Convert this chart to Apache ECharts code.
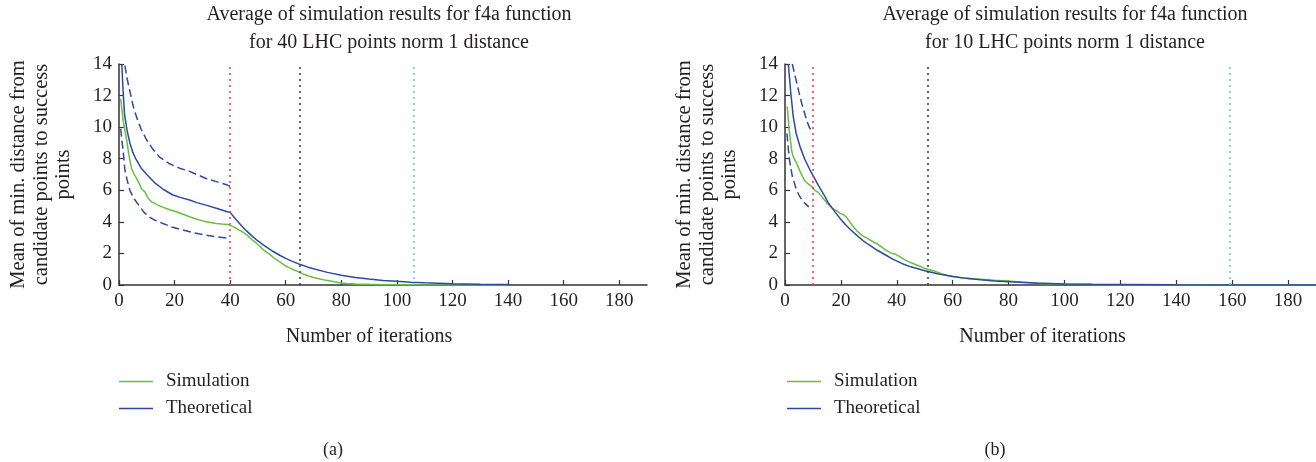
<!DOCTYPE html>
<html>
<head>
<meta charset="utf-8">
<script src="https://cdn.jsdelivr.net/npm/echarts@6/dist/echarts.min.js"></script>
<style>
html,body{margin:0;padding:0;background:#fff;}
#chart{width:1316px;height:462px;}
</style>
</head>
<body>
<div id="chart"></div>
<script>
// ---- data ----
var xTicks = [0, 20, 40, 60, 80, 100, 120, 140, 160, 180];
var yTicks = [0, 2, 4, 6, 8, 10, 12, 14];

var simA = [[0.6,11.8],[1,11.2],[1.5,10.4],[2,9.9],[2.75,9.2],[3.5,8.3],[4.5,7.4],[5.5,7.0],[6.3,6.75],[7.2,6.45],[8.1,6.1],[9.3,5.9],[10.5,5.5],[11.7,5.27],[13,5.15],[14,5.06],[15.5,4.95],[17,4.85],[18.5,4.75],[20.6,4.64],[23,4.48],[25.4,4.32],[28,4.17],[31.3,4.0],[33,3.96],[34.9,3.9],[37,3.86],[39,3.84],[40,3.78],[41,3.7],[42,3.62],[43.2,3.48],[44,3.42],[45,3.3],[46,3.18],[47,3.0],[48,2.85],[49,2.72],[50,2.55],[51,2.4],[52,2.22],[53,2.1],[54,1.97],[55,1.83],[56,1.68],[57,1.56],[58,1.45],[59,1.32],[60,1.2],[61,1.12],[62,1.04],[63,0.95],[64,0.88],[65,0.8],[66,0.72],[67,0.65],[68,0.59],[70,0.48],[72,0.39],[74,0.31],[76,0.25],[78,0.19],[80,0.13],[82,0.1],[85,0.07],[88,0.05],[90,0.04],[95,0.02],[100,0.01],[105,0.01],[110,0],[120,0],[130,0],[140,0]];
var theoA = [[1,14],[1.5,12.2],[2,10.8],[3,9.7],[4,8.95],[5,8.4],[6,8.0],[8,7.4],[10,7.0],[13,6.45],[16,6.05],[19.4,5.7],[22,5.55],[25.4,5.38],[28,5.22],[31.3,5.06],[35,4.86],[39,4.64],[40,4.6],[42,4.16],[44,3.77],[46,3.41],[48,3.08],[50,2.79],[52,2.52],[55,2.17],[58,1.87],[60,1.69],[62,1.53],[65,1.31],[68,1.13],[70,1.03],[75,0.8],[80,0.62],[85,0.48],[90,0.38],[95,0.29],[100,0.23],[105,0.18],[110,0.14],[120,0.08],[130,0.05],[140,0.03]];
var upperA = [[2.1,13.9],[3,13.0],[3.9,12.3],[5,11.4],[6.3,10.65],[8,9.85],[9.9,9.2],[12,8.65],[14.6,8.1],[18,7.7],[21.8,7.4],[25.4,7.2],[28,7.0],[31.3,6.75],[35,6.55],[39,6.33],[40,6.25]];
var lowerA = [[0.6,9.9],[1,9.2],[1.5,8.5],[2.1,7.3],[3,6.6],[3.9,6.0],[5.5,5.45],[7.5,4.96],[9,4.6],[11,4.3],[13,4.1],[15.8,3.9],[19,3.68],[23,3.48],[27,3.3],[31.3,3.16],[35,3.05],[39,2.97],[40,2.95]];
var markersA = [40, 65, 106];

var simB = [[0.8,11.3],[1.5,9.8],[2.4,8.5],[3,8.1],[4.2,7.7],[5.4,7.2],[6.2,6.9],[7.1,6.6],[8.3,6.4],[9.5,6.25],[10.7,6.0],[12,5.85],[13.1,5.6],[14.3,5.35],[15.5,5.1],[17,4.85],[18.5,4.7],[19.6,4.55],[21,4.45],[22,4.3],[23,4.05],[24,3.8],[25,3.58],[26,3.38],[27,3.22],[28,3.1],[29.5,2.95],[31.5,2.74],[33,2.6],[34.5,2.42],[36.3,2.2],[38,2.02],[39.5,1.95],[41,1.8],[42.6,1.62],[44,1.5],[46,1.35],[48,1.2],[50,1.05],[52,0.95],[54,0.85],[56,0.72],[58,0.62],[60.7,0.52],[63,0.46],[66,0.4],[70,0.36],[75,0.3],[80,0.25],[85,0.18],[91,0.1],[95,0.08],[100,0.06],[110,0.03],[120,0.02],[140,0.01],[160,0],[190,0]];
var theoB = [[1.2,14],[2,12.3],[2.96,10.65],[4,9.6],[5.4,8.75],[7,8.0],[8.9,7.3],[10,6.95],[12,6.3],[14,5.7],[15.5,5.2],[18,4.6],[20,4.15],[22,3.75],[25,3.25],[28,2.8],[30,2.55],[33,2.2],[36,1.9],[38.7,1.62],[42,1.35],[45,1.15],[50,0.9],[55,0.7],[60,0.54],[65,0.42],[70,0.33],[75,0.26],[80,0.2],[90,0.12],[100,0.07],[110,0.04],[120,0.025],[140,0.01],[160,0],[190,0]];
var upperB = [[2.6,14],[3.4,13.4],[4.2,12.8],[5,12.2],[6,11.5],[7,10.9],[7.8,10.4],[8.7,10.0],[9.5,9.7]];
var lowerB = [[0.7,9.6],[1.2,8.6],[1.7,7.8],[2.6,6.9],[3.3,6.5],[4.1,6.0],[5,5.7],[6,5.4],[7,5.2],[8.5,4.95]];
var markersB = [10, 51, 159];

var titleA = "Average of simulation results for f4a function\nfor 40 LHC points norm 1 distance";
var titleB = "Average of simulation results for f4a function\nfor 10 LHC points norm 1 distance";
var yName = "Mean of min. distance from\ncandidate points to success\npoints";
var xName = "Number of iterations";

// ---- style ----
var FONT = "Liberation Serif";
var TXT = "#231f20";
var GREEN = "#66bf3f";
var BLUE = "#2d4aa3";
var markerColors = ["#ee3b3b", "#3a3a3a", "#52cde6"];

function xAxis(idx, pad) {
  return {
    type: 'value', gridIndex: idx, min: 0, max: 190, interval: 20,
    name: xName, nameLocation: 'middle', nameGap: 42,
    nameTextStyle: {fontFamily: FONT, fontSize: 20, color: TXT, padding: pad},
    axisLine: {show: true, lineStyle: {color: '#333', width: 1.5}},
    axisTick: {show: true, inside: true, length: 5, customValues: xTicks, lineStyle: {color: '#333', width: 1.2}},
    axisLabel: {customValues: xTicks, fontFamily: FONT, fontSize: 19, color: TXT, margin: 7},
    splitLine: {show: false}
  };
}
function yAxis(idx) {
  return {
    type: 'value', gridIndex: idx, min: 0, max: 14, interval: 2,
    name: yName, nameLocation: 'middle', nameRotate: 90, nameGap: 44,
    nameTextStyle: {fontFamily: FONT, fontSize: 20.5, color: TXT, lineHeight: 22.5, align: 'center'},
    axisLine: {show: true, lineStyle: {color: '#333', width: 1.5}},
    axisTick: {show: true, inside: true, length: 5, lineStyle: {color: '#333', width: 1.2}},
    axisLabel: {fontFamily: FONT, fontSize: 19, color: TXT, margin: 7},
    splitLine: {show: false}
  };
}
function line(name, data, idx, color, dashed) {
  return {
    name: name, type: 'line', xAxisIndex: idx, yAxisIndex: idx, data: data,
    symbol: 'none', smooth: false, silent: true, clip: true,
    lineStyle: {color: color, width: 1.5, type: dashed ? [8, 4] : 'solid'},
    itemStyle: {color: color}
  };
}
function markers(idx, xs) {
  return {
    name: 'markers' + idx, type: 'line', xAxisIndex: idx, yAxisIndex: idx, data: [],
    symbol: 'none', silent: true,
    markLine: {
      symbol: 'none', silent: true, label: {show: false},
      data: xs.map(function (v, i) {
        return {xAxis: v, lineStyle: {color: markerColors[i], type: [2, 4], width: 1.5}};
      })
    }
  };
}
function legend(left) {
  return {
    data: ['Simulation', 'Theoretical'], orient: 'vertical', left: left, top: 372, padding: 0,
    icon: 'rect', itemWidth: 34, itemHeight: 1.5, itemGap: 8,
    selectedMode: false,
    textStyle: {fontFamily: FONT, fontSize: 19, color: TXT, padding: [0, 0, 0, 8]}
  };
}

var option = {
  backgroundColor: '#fff',
  animation: false,
  title: [
    {text: titleA, left: 384, top: -4, textAlign: 'center', textStyle: {fontFamily: FONT, fontSize: 20, fontWeight: 'normal', color: TXT, lineHeight: 28}},
    {text: titleB, left: 1060, top: -4, textAlign: 'center', textStyle: {fontFamily: FONT, fontSize: 20, fontWeight: 'normal', color: TXT, lineHeight: 28}},
    {text: '(a)', left: 328, top: 436, textAlign: 'center', textStyle: {fontFamily: FONT, fontSize: 18, fontWeight: 'normal', color: TXT}},
    {text: '(b)', left: 990, top: 436, textAlign: 'center', textStyle: {fontFamily: FONT, fontSize: 18, fontWeight: 'normal', color: TXT}}
  ],
  legend: [legend(119), legend(787)],
  grid: [
    {left: 119, top: 64, width: 528, height: 221, containLabel: false},
    {left: 785, top: 64, width: 531, height: 221, containLabel: false}
  ],
  xAxis: [xAxis(0, [0, 28, 0, 0]), xAxis(1, [0, 16, 0, 0])],
  yAxis: [yAxis(0), yAxis(1)],
  series: [
    markers(0, markersA),
    line('Simulation', simA, 0, GREEN, false),
    line('Theoretical', theoA, 0, BLUE, false),
    line('upperA', upperA, 0, BLUE, true),
    line('lowerA', lowerA, 0, BLUE, true),
    markers(1, markersB),
    line('Simulation', simB, 1, GREEN, false),
    line('Theoretical', theoB, 1, BLUE, false),
    line('upperB', upperB, 1, BLUE, true),
    line('lowerB', lowerB, 1, BLUE, true)
  ]
};
var chart = echarts.init(document.getElementById('chart'), null, {renderer: 'canvas'});
chart.setOption(option);
</script>
</body>
</html>
